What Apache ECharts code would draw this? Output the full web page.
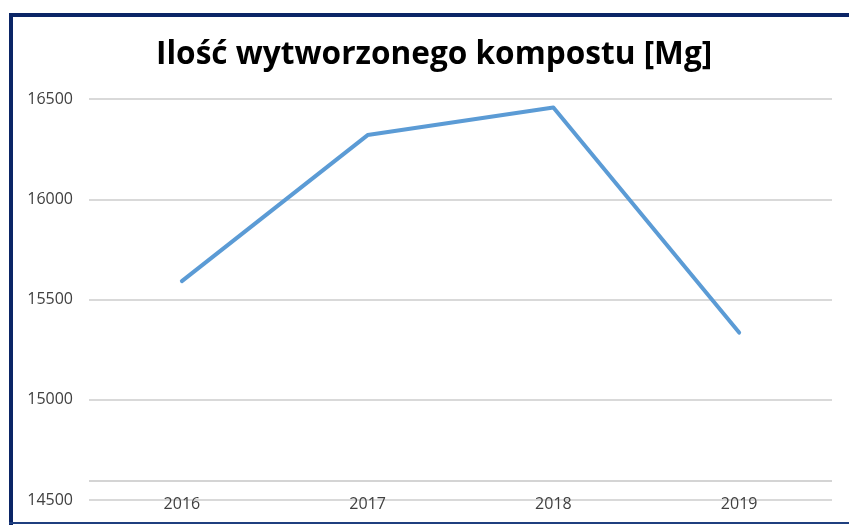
<!DOCTYPE html>
<html>
<head>
<meta charset="utf-8">
<script src="https://cdn.jsdelivr.net/npm/echarts@6/dist/echarts.min.js"></script>
<style>
html,body{margin:0;padding:0;background:#fff;}
#c{width:849px;height:525px;}
</style>
</head>
<body>
<div id="c"></div>
<script>
const titleText = 'Ilość wytworzonego kompostu [Mg]';
const categories = ['2016', '2017', '2018', '2019'];
const compost = [15592, 16320, 16458, 15335];
const yTicks = [14500, 15000, 15500, 16000, 16500];
const extraLineValue = [14595];

const chart = echarts.init(document.getElementById('c'), null, {renderer: 'canvas'});
chart.setOption({
  backgroundColor: '#ffffff',
  animation: false,
  title: {
    text: titleText,
    left: 151,
    top: 34,
    textStyle: {fontFamily: 'Open Sans', fontWeight: 'bold', fontSize: 31.6, color: '#000000'}
  },
  graphic: [
    {type: 'rect', shape: {x: 9, y: 13, width: 840, height: 4}, style: {fill: '#0b2566'}},
    {type: 'rect', shape: {x: 9, y: 13, width: 4, height: 512}, style: {fill: '#0b2566'}},
    {type: 'rect', shape: {x: 9, y: 522, width: 840, height: 2}, style: {fill: '#1f3f7f'}}
  ],
  grid: {left: 89, right: 17, top: 99, bottom: 25, containLabel: false},
  xAxis: {
    type: 'category',
    data: categories,
    boundaryGap: true,
    axisLine: {show: false},
    axisTick: {show: false},
    axisLabel: {margin: -4, fontFamily: 'Open Sans', fontSize: 16, color: '#404040'}
  },
  yAxis: {
    type: 'value',
    min: yTicks[0],
    max: yTicks[yTicks.length - 1],
    interval: yTicks[1] - yTicks[0],
    axisLine: {show: false},
    axisTick: {show: false},
    axisLabel: {margin: 16, fontFamily: 'Open Sans', fontSize: 16, color: '#404040', formatter: v => String(v)},
    splitLine: {lineStyle: {color: '#d9d9d9', width: 2}}
  },
  series: [{
    type: 'line',
    data: compost,
    symbol: 'none',
    lineStyle: {color: '#5b9bd5', width: 4, cap: 'round', join: 'round'},
    markLine: {
      silent: true,
      symbol: 'none',
      animation: false,
      label: {show: false},
      lineStyle: {color: '#d4d4d4', width: 2, type: 'solid'},
      data: extraLineValue.map(v => ({yAxis: v}))
    }
  }]
});
</script>
</body>
</html>
